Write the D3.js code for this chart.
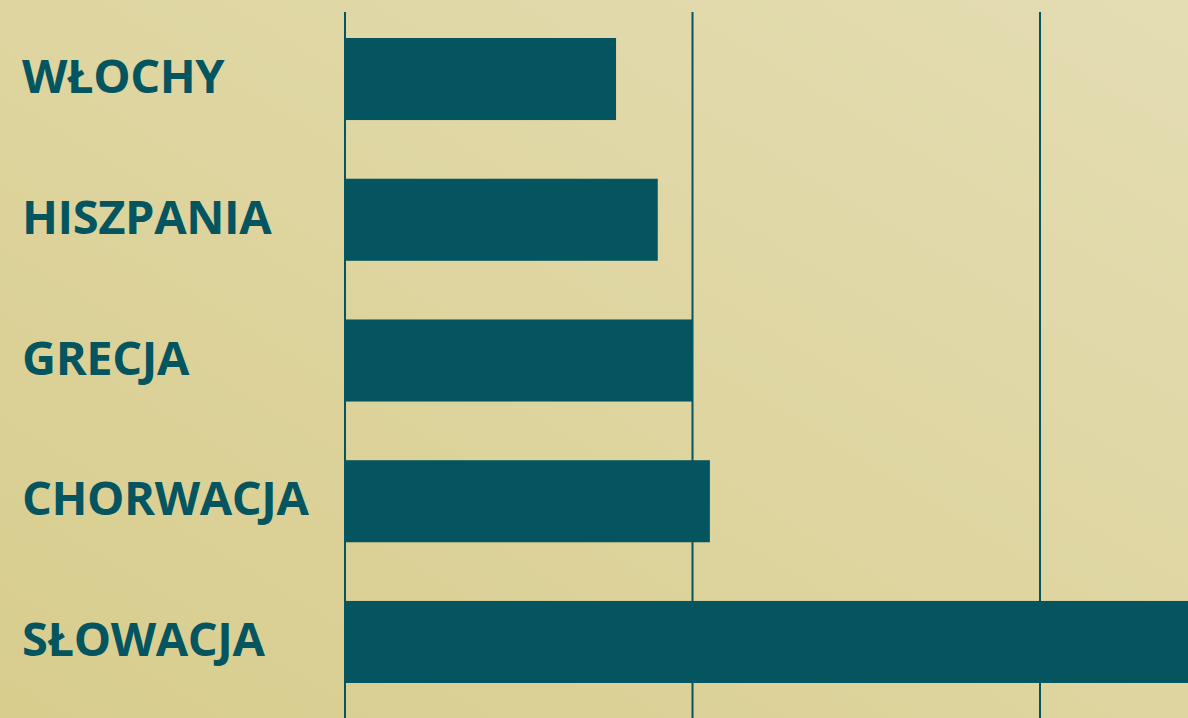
<!DOCTYPE html>
<html>
<head>
<meta charset="utf-8">
<script src="https://cdn.jsdelivr.net/npm/d3@7"></script>
<style>
  html, body { margin: 0; padding: 0; overflow: hidden; }
  svg { display: block; }
</style>
</head>
<body>
<div id="chart-area"></div>
<script>

var width = 1188,
    height = 718;

// data
var countries = ["WŁOCHY", "HISZPANIA", "GRECJA", "CHORWACJA", "SŁOWACJA"];
var values = [3.9, 4.5, 5.0, 5.25, 13];
var gridTicks = [0, 5, 10];

var svg = d3.select("#chart-area").append("svg")
    .attr("width", width)
    .attr("height", height);

// background gradient, bottom-left darker to top-right lighter
var grad = svg.append("defs").append("linearGradient")
    .attr("id", "bg")
    .attr("x1", "0%").attr("y1", "100%")
    .attr("x2", "100%").attr("y2", "0%");
grad.append("stop").attr("offset", "0%").attr("stop-color", "#d8cd8d");
grad.append("stop").attr("offset", "100%").attr("stop-color", "#e4ddb3");

svg.append("rect")
    .attr("width", width)
    .attr("height", height)
    .attr("fill", "url(#bg)");

var teal = "#04555f";

var x = d3.scaleLinear()
    .domain([0, 5])
    .range([345, 692.5]);

var y = d3.scaleBand()
    .domain(countries)
    .range([38, 683])
    .paddingInner(0.417)
    .paddingOuter(0);

// grid lines (behind bars)
svg.selectAll(".grid")
    .data(gridTicks)
    .enter()
    .append("line")
    .attr("class", "grid")
    .attr("x1", d => x(d))
    .attr("x2", d => x(d))
    .attr("y1", 12)
    .attr("y2", height)
    .style("stroke", teal)
    .style("stroke-width", 2);

// bars
svg.selectAll(".bar")
    .data(values)
    .enter()
    .append("rect")
    .attr("class", "bar")
    .attr("x", x(0))
    .attr("y", (d, i) => y(countries[i]))
    .attr("width", d => x(d) - x(0))
    .attr("height", y.bandwidth())
    .attr("fill", teal);

// country labels
svg.selectAll(".label")
    .data(countries)
    .enter()
    .append("text")
    .attr("class", "label")
    .attr("x", 22)
    .attr("y", d => y(d) + y.bandwidth() / 2 + 14)
    .attr("fill", teal)
    .style("font-family", "'Open Sans', sans-serif")
    .style("font-weight", 700)
    .style("font-size", "47px")
    .style("letter-spacing", "-0.4px")
    .text(d => d);

</script>
</body>
</html>
